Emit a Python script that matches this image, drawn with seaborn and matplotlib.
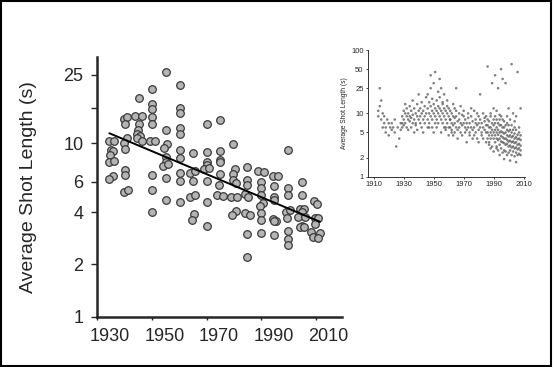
import numpy as np
import pandas as pd
import seaborn as sns
import matplotlib
matplotlib.use("Agg")
import matplotlib.pyplot as plt
from matplotlib.patches import Rectangle
from matplotlib.ticker import NullLocator
from matplotlib.transforms import ScaledTranslation

# main panel: one point per film (year, average shot length in s)
film_year = [
    1934.4, 1936.1, 1935.0, 1935.9, 1934.6, 1934.4, 1936.2, 1935.9, 1934.4,
    1939.8, 1940.8, 1940.3, 1940.8, 1939.9, 1940.2, 1940.2, 1940.2, 1939.8, 1941.1,
    1945.2, 1943.8, 1946.2, 1945.1, 1944.9, 1944.6, 1945.5, 1944.4, 1946.2,
    1950.1, 1950.1, 1950.1, 1950.1, 1950.1, 1949.3, 1951.0, 1950.1, 1950.1, 1950.1,
    1955.0, 1955.0, 1955.6, 1954.4, 1955.0, 1955.0, 1953.9, 1956.0, 1955.0, 1955.0,
    1960.2, 1960.2, 1960.2, 1960.2, 1960.2, 1960.2, 1960.2, 1960.2, 1960.2, 1960.2,
    1964.9, 1963.9, 1965.7, 1964.9, 1964.1, 1965.7, 1965.5, 1964.5,
    1970.0, 1970.0, 1970.0, 1970.0, 1969.1, 1971.0, 1970.0, 1970.0, 1970.0,
    1974.9, 1974.9, 1974.9, 1974.9, 1974.9, 1974.5, 1973.7, 1975.9,
    1979.8, 1980.4, 1979.8, 1979.8, 1980.7, 1979.1, 1981.0, 1980.7, 1979.4,
    1984.9, 1984.9, 1984.9, 1984.0, 1985.2, 1984.0, 1985.9, 1984.9, 1984.9,
    1988.9, 1991.0, 1989.9, 1989.9, 1989.9, 1990.7, 1989.5, 1989.9, 1989.9, 1989.9,
    1994.3, 1996.0, 1994.8, 1994.8, 1994.8, 1994.3, 1995.6, 1994.8, 1994.8,
    2000.0, 2000.0, 2000.0, 1999.0, 2000.7, 1999.5, 2000.0, 2000.0, 2000.0,
    2005.1, 2004.8, 2004.1, 2005.6, 2004.8, 2003.5, 2006.0, 2004.8, 2004.1, 2005.6,
    2009.4, 2010.5, 2009.6, 2010.9, 2009.6, 2008.4, 2011.5, 2009.0, 2010.9,
]
film_asl = [
    10.3, 10.4, 9.2, 9.0, 8.6, 7.8, 7.9, 6.5, 6.2,
    13.8, 14.2, 13.0, 10.7, 10.1, 9.3, 7.0, 6.55, 5.26, 5.35,
    18.2, 14.4, 14.4, 13.0, 11.9, 11.4, 11.05, 10.7, 10.3,
    20.7, 16.9, 15.8, 14.3, 13.0, 10.3, 10.3, 6.55, 5.37, 4.0,
    25.9, 11.9, 9.87, 9.45, 8.4, 7.86, 7.43, 7.6, 6.3, 4.7,
    21.9, 16.0, 15.0, 12.3, 11.4, 9.16, 8.2, 6.76, 6.05, 4.57,
    8.77, 6.76, 6.9, 6.05, 4.9, 5.04, 3.91, 3.61,
    12.9, 8.89, 7.8, 7.53, 7.14, 7.2, 6.05, 4.57, 3.35,
    13.7, 9.08, 8.04, 7.8, 6.69, 5.74, 5.04, 5.0,
    9.96, 7.11, 6.66, 6.17, 5.92, 4.88, 4.88, 4.08, 3.87,
    7.36, 6.17, 5.79, 5.13, 4.9, 3.94, 3.84, 3.0, 2.21,
    6.9, 6.84, 6.0, 5.5, 5.01, 4.55, 4.36, 3.94, 3.63, 3.03,
    6.52, 6.52, 5.67, 4.9, 4.7, 3.66, 3.55, 3.58, 2.94,
    9.16, 5.54, 5.04, 4.0, 4.12, 3.69, 3.11, 2.79, 2.58,
    5.97, 5.01, 4.17, 4.17, 4.0, 3.77, 3.77, 3.35, 3.28, 3.31,
    4.65, 4.46, 3.71, 3.71, 3.43, 3.07, 3.03, 2.88, 2.85,
]

# inset: larger sample of films, read roughly off the cloud
inset_year = (
    [1913, 1913, 1914, 1914, 1915, 1915, 1916, 1916, 1917, 1917, 1918, 1918, 1919,
     1920, 1920, 1921, 1922, 1922, 1923, 1924, 1924, 1925, 1926, 1927, 1928, 1928]
    + [y for y in range(1929, 1946) for _ in range(3)][:50]
    + [y for y in range(1946, 1961) for _ in range(4)]
    + [1961] * 4 + [1962] * 4 + [1963] * 4 + [1964] * 4 + [1965] * 4
    + [y for y in range(1966, 1980) for _ in range(3)]
    + [1980] * 4 + [1981] * 3 + [1982] * 3 + [1983] * 3 + [1984] * 3 + [1985] * 4
    + [1986] * 5 + [1987] * 5 + [1988] * 6 + [1989] * 5 + [1990] * 6 + [1991] * 6
    + [1992] * 7 + [1993] * 6 + [1994] * 7 + [1995] * 7 + [1996] * 7 + [1997] * 7
    + [1998] * 6 + [1999] * 7 + [2000] * 7 + [2001] * 7 + [2002] * 7 + [2003] * 6
    + [2004] * 7 + [2005] * 7 + [2006] * 6 + [2007] * 6 + [2008] * 6
)
inset_asl = [
    11, 9, 25, 13, 8, 16, 10, 6, 7, 9, 5, 6, 8, 7, 4.5, 6, 5.5, 7, 6, 5, 8, 3, 6, 4, 5.5, 7,
    6, 9, 7, 8, 11, 6.5, 7, 10, 14, 9, 6, 12, 8, 5.5, 10, 7.5, 9, 13, 6, 8.5, 11,
    7, 9.5, 16, 5, 8, 12, 7, 10, 6.5, 9, 14, 5.5, 8, 11, 20, 7, 9, 12, 6, 10, 15,
    8, 5, 11, 9, 13, 7, 10, 18, 6,
    12, 8, 20, 6, 10, 15, 7, 40, 9, 13, 25, 6, 11, 8, 17, 5, 14, 10, 30, 7,
    9, 12, 45, 6, 11, 16, 8, 22, 10, 7, 13, 35, 12, 9, 18, 5, 8, 11, 25, 14,
    10, 7, 15, 6, 9, 12, 20, 5.5, 8, 11, 6, 16, 10, 7, 13, 4.5, 9, 6, 12, 8,
    8, 6, 11, 5, 7, 10, 5.5, 14, 9, 6.5, 4.5, 12, 7, 8.5, 5, 25, 6, 9, 11, 4,
    7.5, 5.5, 10, 6, 8, 13, 7, 5, 9.5, 6.5, 4.5, 11, 7, 9, 5, 6, 8, 3.5,
    7, 5.5, 10, 6, 8.5, 4.5, 7, 5, 12, 6, 9, 4, 5.5, 7.5, 11, 6, 4.5, 8,
    5, 7, 10, 6.5, 4, 9,
    5.5, 7, 3.5, 20, 6, 8, 4.5, 5, 7, 10, 6, 4, 8.5, 5.5, 7.5, 3.5, 5, 6.5, 9, 55,
    5, 6.5, 4, 8, 3.2, 4.5, 6, 7.5, 3.5, 10, 5, 4, 6, 9, 2.8, 30, 4.5, 5.5, 7, 3, 12,
    4, 5, 6.5, 8, 2.5, 40, 4.5, 5.5, 3.5, 7, 9, 2.8, 4, 5, 6, 3, 8, 11, 25,
    3.8, 4.6, 5.5, 7, 2.6, 9.5, 4, 5, 3.2, 6.5, 2.2, 8, 50,
    3.6, 4.4, 5.2, 6.5, 2.8, 9, 35, 3.5, 4.2, 5, 6, 2.4, 8, 1.9,
    3.4, 4, 4.8, 6, 2.6, 7.5, 30, 3.2, 4, 5, 2.5, 6.5, 9,
    3.3, 3.8, 4.5, 5.5, 2.2, 7, 12, 3, 3.6, 4.3, 5.2, 2.4, 6.5, 1.8,
    3.1, 3.7, 4.5, 2.6, 5.5, 8, 60, 2.9, 3.5, 4.2, 5, 2.2, 6.5, 10,
    3, 3.6, 4.4, 2.5, 5.5, 7.5, 2.8, 3.4, 4, 4.8, 2.1, 6, 1.7,
    2.9, 3.5, 4.2, 2.4, 5.5, 9, 45, 2.7, 3.2, 3.9, 4.6, 2.2, 6,
    2.8, 3.3, 4, 2.3, 5, 12, 2.6, 3.1, 3.8, 4.5, 2.2, 7,
]

main_yticks = [1, 2, 4, 6, 10, 16, 25]
main_ylabels = ["1", "2", "4", "6", "10", "", "25"]
main_xticks = [1930, 1950, 1970, 1990, 2010]
inset_yticks = [1, 2, 5, 10, 25, 50, 100]
inset_xticks = [1910, 1930, 1950, 1970, 1990, 2010]

sns.set_style("ticks")
plt.rcParams["font.family"] = ["Liberation Sans", "DejaVu Sans"]

films = pd.DataFrame({"year": film_year, "asl": film_asl})
n = min(len(inset_year), len(inset_asl))
inset = pd.DataFrame({"year": inset_year[:n], "asl": inset_asl[:n]})

fig = plt.figure(figsize=(5.53, 3.67), dpi=100)

# main panel
ax = fig.add_axes([0.176, 0.1376, 0.442, 0.707])
sns.scatterplot(data=films, x="year", y="asl", ax=ax, s=30,
                color="#b4b4b4", edgecolor="#3a3a3a", linewidth=0.9, zorder=2)

# log-linear fit
coef = np.polyfit(films["year"], np.log10(films["asl"]), 1)
fit_x = np.array([films["year"].min(), films["year"].max()])
fit = pd.DataFrame({"year": fit_x, "asl": 10 ** np.polyval(coef, fit_x)})
sns.lineplot(data=fit, x="year", y="asl", ax=ax, color="black", lw=1.4, zorder=3)

ax.set_yscale("log")
ax.set_ylim(1, 31.6)
ax.set_xlim(1930, 2019.5)
ax.set_yticks(main_yticks)
ax.set_yticklabels(main_ylabels)
ax.yaxis.set_minor_locator(NullLocator())
ax.set_xticks(main_xticks)
ax.set_xticklabels([str(t) for t in main_xticks])
ax.tick_params(axis="y", labelsize=13, length=4, width=1, pad=6)
ax.tick_params(axis="x", labelsize=13, length=2, width=1, pad=6)
offset = ScaledTranslation(0.125, 0, fig.dpi_scale_trans)
for lab in ax.get_xticklabels():
    lab.set_transform(lab.get_transform() + offset)
ax.set_xlabel("")
ax.set_ylabel("Average Shot Length (s)", fontsize=14)
ax.yaxis.set_label_coords(-0.245, 0.5)
for side in ["top", "right"]:
    ax.spines[side].set_visible(False)
for side in ["left", "bottom"]:
    ax.spines[side].set_linewidth(1.8)

# inset panel
ax2 = fig.add_axes([0.665, 0.5185, 0.2845, 0.345])
sns.scatterplot(data=inset, x="year", y="asl", ax=ax2, s=3.5,
                color="#555555", edgecolor="none", alpha=0.75)
ax2.set_yscale("log")
ax2.set_ylim(1, 100)
ax2.set_xlim(1906, 2011)
ax2.set_yticks(inset_yticks)
ax2.set_yticklabels([str(t) for t in inset_yticks])
ax2.yaxis.set_minor_locator(NullLocator())
ax2.set_xticks(inset_xticks)
ax2.set_xticklabels([str(t) for t in inset_xticks])
ax2.tick_params(labelsize=5.5, length=1.5, width=0.6, pad=1.5)
ax2.set_xlabel("")
ax2.set_ylabel("Average Shot Length (s)", fontsize=4.8, labelpad=2)
for side in ["top", "right"]:
    ax2.spines[side].set_visible(False)
for side in ["left", "bottom"]:
    ax2.spines[side].set_linewidth(0.7)
    ax2.spines[side].set_color("#333333")

# frame round the whole picture
fig.add_artist(Rectangle((0.002, 0.003), 0.995, 0.994, transform=fig.transFigure,
                         fill=False, lw=1.5, edgecolor="black"))

fig.savefig("out.png", dpi=100)
